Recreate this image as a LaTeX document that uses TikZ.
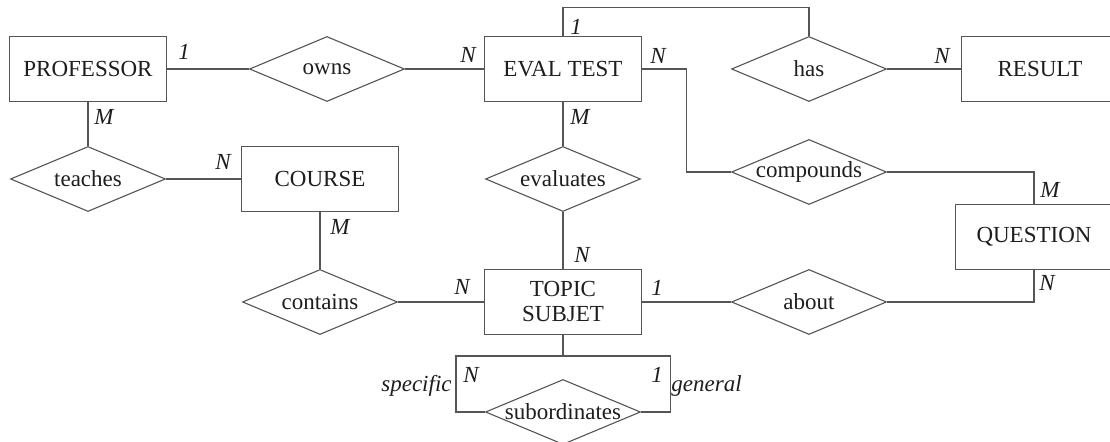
\documentclass[tikz,border=0pt]{standalone}
\usepackage{fontspec}
\setmainfont{Liberation Serif}
\usepackage{tikz}
\usetikzlibrary{shapes.geometric}
\definecolor{pen}{RGB}{85, 85, 85}
\definecolor{ink}{RGB}{30, 30, 30}

\begin{document}
\begin{tikzpicture}[x=0.5pt, y=-0.5pt,
    every node/.style={text=ink, font=\fontsize{11.5}{12.5}\selectfont},
    entity/.style={draw=pen, line width=0.55pt, minimum width=78.5pt,
      minimum height=32.5pt, inner sep=0pt, align=center},
    rel/.style={diamond, draw=pen, line width=0.55pt, minimum width=77.5pt,
      minimum height=32.5pt, inner sep=0pt, label={center:#1}},
    card/.style={inner sep=0pt, font=\fontsize{11.5}{12.5}\selectfont\itshape},
    link/.style={draw=pen, line width=0.55pt}]

  \useasboundingbox (0, 0) rectangle (1110, 442);
  \fill[white] (0, 0) rectangle (1110, 442);
  \clip (0, 0) rectangle (1110, 442);

  % entities
  \node[entity] (prof)     at (88, 69)    {PROFESSOR};
  \node[entity] (eval)     at (563, 69)   {EVAL TEST};
  \node[entity] (result)   at (1040, 69)  {RESULT};
  \node[entity] (course)   at (320, 179)  {COURSE};
  \node[entity] (question) at (1034, 237) {QUESTION};
  \node[entity] (topic)    at (563, 302)  {TOPIC\\SUBJET};

  % relationships
  \node[rel=owns]         (owns)      at (327, 69)  {};
  \node[rel=has]          (has)       at (809, 69)  {};
  \node[rel=teaches]      (teaches)   at (88, 179)  {};
  \node[rel=evaluates]    (evals)     at (563, 179) {};
  \node[rel=compounds]    (compounds) at (809, 172) {};
  \node[rel=contains]     (contains)  at (320, 302) {};
  \node[rel=about]        (about)     at (809, 302) {};
  \node[rel=subordinates] (subord)    at (563, 412) {};

  % connectors
  \draw[link] (prof.east) -- (owns.west);
  \draw[link] (owns.east) -- (eval.west);
  \draw[link] (eval.north) -- ++(0, -28) -| (has.north);
  \draw[link] (has.east) -- (result.west);
  \draw[link] (prof.south) -- (teaches.north);
  \draw[link] (teaches.east) -- (course.west);
  \draw[link] (eval.south) -- (evals.north);
  \draw[link] (evals.south) -- (topic.north);
  \draw[link] (eval.east) -- ++(44, 0) |- (compounds.west);
  \draw[link] (compounds.east) -| (question.north);
  \draw[link] (course.south) -- (contains.north);
  \draw[link] (contains.east) -- (topic.west);
  \draw[link] (topic.east) -- (about.west);
  \draw[link] (about.east) -| (question.south);
  \coordinate (loop) at (563, 356);
  \draw[link] (topic.south) -- (loop);
  \draw[link] (subord.west) -- ++(-29, 0) |- (loop);
  \draw[link] (subord.east) -- ++(29, 0) |- (loop);

  % cardinalities
  \node[card] (c1)  at (184, 52)   {1};
  \node[card] (c2)  at (468, 55)   {N};
  \node[card] (c3)  at (104, 117)  {M};
  \node[card] (c4)  at (223, 162)  {N};
  \node[card] (c5)  at (576, 27)   {1};
  \node[card] (c6)  at (658, 56)   {N};
  \node[card] (c7)  at (942, 56)   {N};
  \node[card] (c8)  at (580, 117)  {M};
  \node[card] (c9)  at (1050, 190) {M};
  \node[card] (c10) at (1047, 283) {N};
  \node[card] (c11) at (340, 227)  {M};
  \node[card] (c12) at (462, 287)  {N};
  \node[card] (c13) at (582, 255)  {N};
  \node[card] (c14) at (657, 288)  {1};
  \node[card] (c15) at (471, 375)  {N};
  \node[card] (c16) at (657, 375)  {1};
  \node[card, anchor=base east] (spec) at (452, 392) {specific};
  \node[card, anchor=base west] (gen)  at (671, 392) {general};

\end{tikzpicture}
\end{document}
